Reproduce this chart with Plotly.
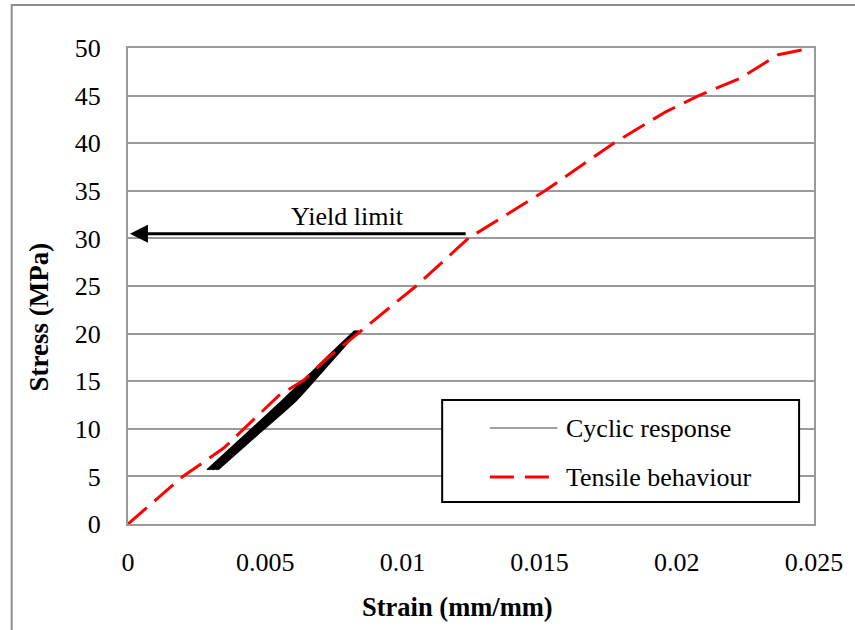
import plotly.graph_objects as go

# ---- data ----
tensile_strain = [0, 0.0020, 0.0035, 0.0045, 0.0055, 0.0064, 0.0073, 0.0085, 0.0105,
                  0.0124, 0.0152, 0.0177, 0.0196, 0.0208, 0.0223, 0.0237, 0.0249]
tensile_stress = [0, 5.0, 8.0, 10.8, 13.5, 15.1, 17.5, 20.3, 25.0,
                  30.0, 35.0, 40.0, 43.3, 45.0, 46.8, 49.3, 50.0]

cyclic_strain = [0.00288, 0.00432, 0.00563, 0.00689, 0.00825, 0.00703, 0.00589, 0.00447,
                 0.00293, 0.00436, 0.00566, 0.00692, 0.00827, 0.00705, 0.00593, 0.00452,
                 0.00298, 0.00440, 0.00570, 0.00695, 0.00829, 0.00708, 0.00596, 0.00456,
                 0.00303, 0.00444, 0.00573, 0.00698, 0.00831, 0.00711, 0.00600, 0.00460,
                 0.00308, 0.00449, 0.00577, 0.00701, 0.00834, 0.00715, 0.00604, 0.00464,
                 0.00313, 0.00453, 0.00581, 0.00704, 0.00836, 0.00717, 0.00607, 0.00469,
                 0.00318, 0.00457, 0.00584, 0.00707, 0.00838, 0.00720, 0.00611, 0.00473,
                 0.00323, 0.00461, 0.00588, 0.00710, 0.00840, 0.00723, 0.00614, 0.00477,
                 0.00328]
cyclic_stress = [5.7, 9.5, 13.0, 16.5, 20.3, 16.5, 13.0, 9.5,
                 5.7, 9.5, 13.0, 16.5, 20.3, 16.5, 13.0, 9.5,
                 5.7, 9.5, 13.0, 16.5, 20.3, 16.5, 13.0, 9.5,
                 5.7, 9.5, 13.0, 16.5, 20.3, 16.5, 13.0, 9.5,
                 5.7, 9.5, 13.0, 16.5, 20.3, 16.5, 13.0, 9.5,
                 5.7, 9.5, 13.0, 16.5, 20.3, 16.5, 13.0, 9.5,
                 5.7, 9.5, 13.0, 16.5, 20.3, 16.5, 13.0, 9.5,
                 5.7, 9.5, 13.0, 16.5, 20.3, 16.5, 13.0, 9.5,
                 5.7]

x_ticks = [0, 0.005, 0.01, 0.015, 0.02, 0.025]
x_tick_labels = ["0", "0.005", "0.01", "0.015", "0.02", "0.025"]
y_ticks = [0, 5, 10, 15, 20, 25, 30, 35, 40, 45, 50]

series_names = ["Cyclic response", "Tensile behaviour"]
yield_label = "Yield limit"
yield_stress = 30.5
yield_arrow_tail = 0.01236
yield_arrow_head = 0.00007

FONT = "Liberation Serif"
GRID = "#9a9a9a"

fig = go.Figure()
fig.add_trace(go.Scatter(x=cyclic_strain, y=cyclic_stress, mode="lines",
                         name=series_names[0], showlegend=False,
                         line=dict(color="black", width=1.5, shape="spline", smoothing=0.6)))
fig.add_trace(go.Scatter(x=tensile_strain, y=tensile_stress, mode="lines",
                         name=series_names[1], showlegend=False,
                         line=dict(color="#ff0000", width=3, dash="25px,10px")))

# plot-area geometry (px) for paper conversions
L, R, T, B = 128, 818, 48, 524
W, H = R - L, B - T
def px(xp):
    return (xp - L) / W
def py(yp):
    return (B - yp) / H

shapes = []
# outer border of chart
shapes.append(dict(type="rect", xref="paper", yref="paper",
                   x0=px(11), x1=px(862), y0=py(5), y1=py(640),
                   line=dict(color="#8c8c8c", width=2), layer="below"))
# legend box
shapes.append(dict(type="rect", xref="paper", yref="paper",
                   x0=px(444), x1=px(803), y0=py(400), y1=py(502),
                   line=dict(color="black", width=2), fillcolor="white", layer="above"))
# legend samples
shapes.append(dict(type="line", xref="paper", yref="paper",
                   x0=px(492), x1=px(560), y0=py(428), y1=py(428),
                   line=dict(color="#444444", width=1), layer="above"))
shapes.append(dict(type="line", xref="paper", yref="paper",
                   x0=px(492), x1=px(562), y0=py(477), y1=py(477),
                   line=dict(color="#ff0000", width=3, dash="24px,11px"), layer="above"))

annotations = [
    dict(x=px(567), y=py(428), xref="paper", yref="paper", text=series_names[0],
         showarrow=False, xanchor="left", yanchor="middle",
         font=dict(family=FONT, size=26, color="black")),
    dict(x=px(567), y=py(477), xref="paper", yref="paper", text=series_names[1],
         showarrow=False, xanchor="left", yanchor="middle",
         font=dict(family=FONT, size=26, color="black")),
    # yield arrow
    dict(x=yield_arrow_head, y=yield_stress, ax=yield_arrow_tail, ay=yield_stress,
         xref="x", yref="y", axref="x", ayref="y", text="", showarrow=True,
         arrowhead=2, arrowsize=1.2, arrowwidth=3, arrowcolor="black"),
    dict(x=0.0080, y=32.3, xref="x", yref="y", text=yield_label, showarrow=False,
         xanchor="center", yanchor="middle",
         font=dict(family=FONT, size=26, color="black")),
    # axis titles
    dict(x=px(459), y=py(607), xref="paper", yref="paper", text="<b>Strain (mm/mm)</b>",
         showarrow=False, xanchor="center", yanchor="middle",
         font=dict(family=FONT, size=26.5, color="black")),
    dict(x=px(38), y=py(317), xref="paper", yref="paper", text="<b>Stress (MPa)</b>",
         showarrow=False, xanchor="center", yanchor="middle", textangle=-90,
         font=dict(family=FONT, size=27, color="black")),
]

fig.update_layout(
    width=855, height=630,
    margin=dict(l=L, r=855 - R, t=T, b=630 - B),
    paper_bgcolor="white", plot_bgcolor="white",
    showlegend=False,
    font=dict(family=FONT, size=26, color="black"),
    shapes=shapes, annotations=annotations,
    xaxis=dict(range=[0, 0.025], tickvals=x_ticks, ticktext=x_tick_labels,
               showgrid=False, zeroline=False, showline=True, mirror=True,
               linecolor=GRID, linewidth=2, ticks="", ticklabelstandoff=14,
               tickfont=dict(family=FONT, size=26, color="black")),
    yaxis=dict(range=[0, 50], tickvals=y_ticks,
               showgrid=True, gridcolor=GRID, gridwidth=2, zeroline=False,
               showline=True, mirror=True, linecolor=GRID, linewidth=2,
               ticks="", ticklabelstandoff=20,
               tickfont=dict(family=FONT, size=26, color="black")),
)

fig.write_html("out.html", config={"displayModeBar": False},
               post_script="document.body.style.margin='0';document.body.style.overflow='hidden';")
